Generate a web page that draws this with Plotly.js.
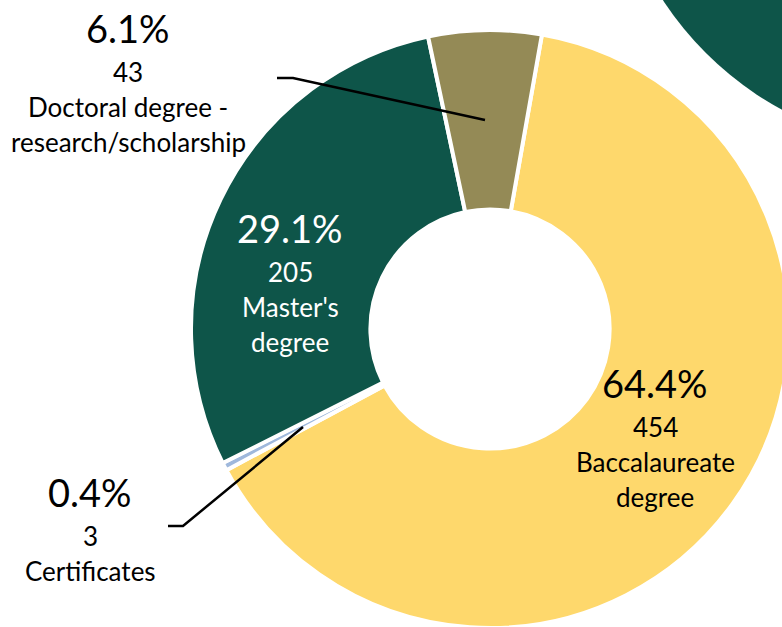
<!DOCTYPE html>
<html>
<head>
<meta charset="utf-8">
<script src="https://cdn.plot.ly/plotly-3.0.1.min.js"></script>
<style>
html, body { margin: 0; padding: 0; overflow: hidden; background: #ffffff; }
#chart { width: 820px; height: 700px; }
</style>
</head>
<body>
<div id="chart"></div>
<script>
// ---- data ----
var categories = ["Baccalaureate degree", "Certificates", "Master's degree", "Doctoral degree - research/scholarship"];
var counts = [454, 3, 205, 43];
var labelLines = [["Baccalaureate", "degree"], ["Certificates"], ["Master's", "degree"], ["Doctoral degree -", "research/scholarship"]];
var sliceColors = ["#FED86C", "#9FB8DC", "#0E5549", "#948A56"];
var labelColors = ["#000000", "#000000", "#ffffff", "#000000"];

// ---- layout helpers (pixel -> paper) ----
var W = 820, H = 700;
function px(x) { return x / W; }
function py(y) { return 1 - y / H; }

var total = counts.reduce(function (a, b) { return a + b; }, 0);

// label block anchors (center x, y of first line)
var blockPos = [[655, 383], [90, 492], [290, 228], [128, 28]];
var lineOffsets = [0, 44, 79, 114];

var annotations = [];
for (var i = 0; i < categories.length; i++) {
  var pct = (counts[i] / total * 100).toFixed(1) + "%";
  var lines = [pct, String(counts[i])].concat(labelLines[i]);
  for (var j = 0; j < lines.length; j++) {
    annotations.push({
      xref: "paper", yref: "paper",
      x: px(blockPos[i][0]), y: py(blockPos[i][1] + lineOffsets[j]),
      xanchor: "center", yanchor: "middle",
      text: lines[j], showarrow: false,
      font: { family: "Lato, 'Open Sans', sans-serif", size: j === 0 ? 38 : 26, color: labelColors[i] }
    });
  }
}

var shapes = [
  { type: "circle", xref: "paper", yref: "paper",
    x0: px(940 - 331), x1: px(940 + 331), y0: py(-181 + 331), y1: py(-181 - 331),
    fillcolor: "#0E5549", line: { width: 0 }, layer: "below" },
  { type: "path", xref: "paper", yref: "paper",
    path: "M " + px(277) + " " + py(78) + " L " + px(293) + " " + py(78) + " L " + px(485) + " " + py(120),
    line: { color: "#000000", width: 2.5 } },
  { type: "path", xref: "paper", yref: "paper",
    path: "M " + px(168) + " " + py(526) + " L " + px(183) + " " + py(526) + " L " + px(303) + " " + py(427),
    line: { color: "#000000", width: 2.5 } }
];

var trace = {
  type: "pie",
  labels: categories,
  values: counts,
  sort: false,
  direction: "clockwise",
  rotation: 10,
  hole: 0.40,
  textinfo: "none",
  hoverinfo: "label+value+percent",
  marker: { colors: sliceColors, line: { color: "#ffffff", width: 4 } },
  domain: { x: [191 / W, 789 / W], y: [1 - 628 / H, 1 - 30 / H] },
  showlegend: false
};

var layout = {
  width: W, height: H,
  margin: { l: 0, r: 0, t: 0, b: 0, pad: 0 },
  paper_bgcolor: "#ffffff",
  plot_bgcolor: "#ffffff",
  showlegend: false,
  annotations: annotations,
  shapes: shapes
};

Plotly.newPlot("chart", [trace], layout, { displayModeBar: false, staticPlot: true });
</script>
</body>
</html>
